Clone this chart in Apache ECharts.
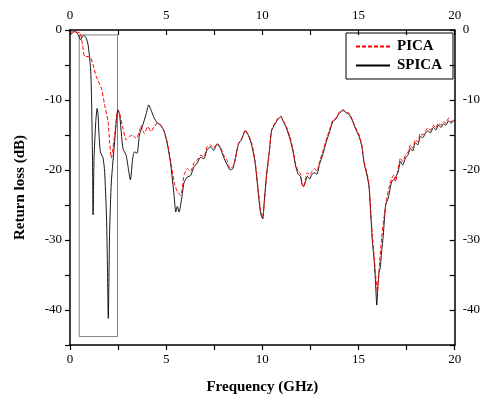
<!DOCTYPE html>
<html><head><meta charset="utf-8">
<script src="https://cdn.jsdelivr.net/npm/echarts@6/dist/echarts.min.js"></script>
<style>html,body{margin:0;padding:0;background:#fff}#c{width:483px;height:401px}</style>
</head><body><div id="c"></div>
<script>
// Frequency (GHz) / Return loss (dB)
const picaFreq = [0,0.17,0.27,0.52,0.65,0.77,1.03,1.20,1.37,1.63,1.80,1.98,2.06,2.15,2.23,2.32,2.41,2.49,2.58,2.75,2.92,3.09,3.26,3.44,3.61,3.69,3.87,4.04,4.21,4.38,4.55,4.72,4.90,5.07,5.24,5.41,5.58,5.76,5.93,6.10,6.27,6.44,6.61,6.79,6.96,7.13,7.30,7.47,7.65,7.82,7.99,8.16,8.33,8.47,8.59,8.76,8.93,9.11,9.28,9.45,9.62,9.79,9.91,10.02,10.10,10.22,10.36,10.48,10.65,10.82,10.96,11.08,11.25,11.43,11.60,11.72,11.86,11.98,12.06,12.15,12.23,12.34,12.46,12.58,12.72,12.84,12.97,13.14,13.32,13.49,13.66,13.83,14.00,14.18,14.35,14.52,14.69,14.86,15.03,15.17,15.29,15.46,15.55,15.64,15.72,15.81,15.89,15.98,16.03,16.10,16.20,16.32,16.44,16.58,16.72,16.84,16.92,17.06,17.18,17.30,17.44,17.58,17.70,17.82,17.95,18.09,18.21,18.34,18.47,18.61,18.73,18.90,19.02,19.16,19.30,19.42,19.54,19.68,19.81,19.94,20];
const picaLoss = [-0.4,-0.2,-0.3,-0.4,-2.1,-3.8,-3.8,-5.0,-6.7,-8.3,-10.7,-13.1,-16.0,-18.3,-16.9,-15.0,-12.6,-11.4,-11.9,-14.0,-15.7,-15.2,-15.0,-15.5,-14.5,-13.6,-14.8,-13.8,-14.5,-13.8,-13.3,-13.6,-14.5,-16.2,-18.8,-21.7,-23.1,-23.6,-20.7,-19.8,-20.2,-19.0,-18.6,-17.9,-18.1,-16.7,-16.4,-16.9,-16.2,-16.7,-17.9,-18.6,-19.8,-19.5,-18.6,-16.2,-15.5,-14.3,-15.0,-16.2,-18.6,-22.9,-25.7,-26.7,-24.8,-21.0,-17.6,-14.3,-13.3,-12.6,-12.3,-12.9,-13.8,-15.2,-17.1,-19.0,-20.2,-20.5,-21.7,-22.5,-21.4,-20.4,-20.7,-20.2,-19.8,-20.2,-18.8,-17.4,-15.7,-14.3,-12.9,-12.6,-11.7,-11.4,-11.7,-11.9,-12.9,-14.0,-15.0,-16.4,-18.8,-20.7,-22.1,-26.0,-29.3,-32.1,-35.0,-37.4,-36.0,-33.1,-29.8,-26.9,-24.5,-22.6,-21.2,-20.7,-21.7,-19.8,-18.3,-18.8,-17.9,-17.4,-16.4,-16.9,-15.7,-16.0,-14.8,-15.0,-14.5,-14.0,-14.3,-13.6,-14.0,-13.3,-13.6,-13.1,-13.3,-12.6,-13.1,-12.9,-12.8];

const spicaFreq = [0,0.09,0.26,0.43,0.55,0.69,0.82,0.94,1.07,1.12,1.17,1.20,1.25,1.34,1.41,1.46,1.51,1.58,1.72,1.80,1.89,1.94,1.99,2.06,2.15,2.32,2.41,2.49,2.58,2.75,2.92,3.14,3.26,3.35,3.49,3.61,3.78,3.95,4.09,4.21,4.38,4.55,4.72,4.90,5.07,5.24,5.41,5.50,5.58,5.67,5.81,5.93,6.10,6.27,6.44,6.61,6.79,6.96,7.13,7.30,7.47,7.65,7.82,7.99,8.16,8.33,8.47,8.59,8.76,8.93,9.11,9.28,9.45,9.62,9.79,9.91,10.02,10.10,10.22,10.36,10.48,10.65,10.82,10.96,11.08,11.25,11.43,11.60,11.72,11.86,11.98,12.06,12.15,12.23,12.34,12.46,12.58,12.72,12.84,12.97,13.14,13.32,13.49,13.66,13.83,14.00,14.18,14.35,14.52,14.69,14.86,15.03,15.17,15.29,15.46,15.55,15.64,15.72,15.82,15.89,15.95,16.00,16.07,16.13,16.20,16.29,16.41,16.55,16.72,16.89,17.06,17.18,17.30,17.44,17.58,17.70,17.82,17.95,18.09,18.21,18.34,18.47,18.61,18.73,18.90,19.02,19.16,19.30,19.42,19.54,19.68,19.81,19.94,20];
const spicaLoss = [-0.6,-0.5,-0.2,-0.7,-1.4,-0.8,-1.0,-2.1,-5.5,-9.8,-18.3,-26.4,-18.3,-13.1,-11.2,-12.1,-15.0,-17.4,-18.3,-20.2,-26.0,-32.6,-41.2,-28.8,-21.7,-16.0,-13.1,-11.4,-12.1,-16.9,-17.9,-21.4,-18.3,-17.4,-17.6,-15.0,-13.6,-12.1,-10.7,-11.4,-12.6,-13.3,-13.6,-14.5,-16.4,-19.3,-23.6,-26.0,-25.2,-26.0,-24.0,-21.8,-21.0,-20.8,-19.6,-19.0,-18.2,-18.4,-17.1,-16.7,-17.2,-16.3,-16.9,-18.2,-19.2,-20.0,-19.8,-18.4,-16.3,-15.6,-14.4,-15.1,-16.5,-18.9,-23.3,-26.2,-27.0,-24.5,-20.6,-17.4,-14.4,-13.5,-12.7,-12.4,-13.0,-14.0,-15.5,-17.4,-19.3,-20.6,-20.9,-22.0,-22.3,-21.8,-20.9,-21.3,-20.6,-20.4,-20.6,-19.2,-17.8,-16.0,-14.6,-13.1,-12.7,-11.9,-11.5,-11.8,-12.1,-13.0,-14.2,-15.2,-16.6,-19.0,-21.0,-22.5,-26.5,-30.2,-33.1,-36.4,-39.3,-36.9,-34.5,-34.0,-31.7,-29.3,-25.0,-24.0,-21.7,-21.2,-20.3,-18.8,-19.3,-18.3,-17.8,-16.9,-17.3,-16.1,-16.4,-15.2,-15.4,-14.8,-14.4,-14.7,-13.9,-14.3,-13.6,-13.9,-13.4,-13.6,-13.0,-13.3,-13.0,-12.9];

// highlighted region box: frequency range and loss range
const boxFreq = [0.48, 2.47];
const boxLoss = [-0.7, -43.8];

const xTicks = [0, 5, 10, 15, 20];
const yTicks = [0, -10, -20, -30, -40];

const serif = '"Liberation Serif","DejaVu Serif",serif';
const zip = (a, b) => a.map((v, i) => [v, b[i]]);

const chart = echarts.init(document.getElementById('c'), null, {renderer: 'canvas'});
const axisLine = {show: true, onZero: false, lineStyle: {color: '#000', width: 1.5}};
const xLab = (show) => ({show: show, color: '#000', fontFamily: serif, fontSize: 13, margin: 8,
  formatter: v => xTicks.includes(v) ? String(v) : ''});
const yLab = {color: '#000', fontFamily: serif, fontSize: 13, margin: 8,
  formatter: v => yTicks.includes(v) ? String(v) : ''};

chart.setOption({
  animation: false,
  backgroundColor: '#fff',
  grid: {left: 70, right: 25, top: 30, bottom: 56},
  legend: {
    orient: 'vertical', left: 346, top: 33,
    padding: [6, 11, 6, 9], itemGap: 4, itemWidth: 34, itemHeight: 10,
    borderColor: '#000', borderWidth: 1,
    itemStyle: {color: 'rgba(0,0,0,0)', borderColor: 'rgba(0,0,0,0)', borderWidth: 0},
    textStyle: {fontFamily: serif, fontSize: 15, fontWeight: 'bold', color: '#000', padding: [0, 0, 0, 2]},
    data: ['PICA', 'SPICA']
  },
  xAxis: [
    {type: 'value', position: 'bottom', min: 0, max: 20, interval: 2.5,
     name: 'Frequency (GHz)', nameLocation: 'middle', nameGap: 35,
     nameTextStyle: {fontFamily: serif, fontSize: 15, fontWeight: 'bold', color: '#000'},
     axisLine: axisLine, axisTick: {show: true, inside: false, length: 5, lineStyle: {color: '#000', width: 1.2}},
     axisLabel: xLab(true), splitLine: {show: false}},
    {type: 'value', position: 'top', min: 0, max: 20, interval: 2.5,
     axisLine: axisLine, axisTick: {show: true, inside: true, length: 5, lineStyle: {color: '#000', width: 1.2}},
     axisLabel: xLab(true), splitLine: {show: false}}
  ],
  yAxis: [
    {type: 'value', position: 'left', min: -45, max: 0, interval: 5,
     name: 'Return loss (dB)', nameLocation: 'middle', nameGap: 42, nameRotate: 90,
     nameTextStyle: {fontFamily: serif, fontSize: 15, fontWeight: 'bold', color: '#000'},
     axisLine: axisLine, axisTick: {show: true, inside: false, length: 5, lineStyle: {color: '#000', width: 1.2}},
     axisLabel: yLab, splitLine: {show: false}},
    {type: 'value', position: 'right', min: -45, max: 0, interval: 5,
     axisLine: axisLine, axisTick: {show: true, inside: true, length: 5, lineStyle: {color: '#000', width: 1.2}},
     axisLabel: yLab, splitLine: {show: false}}
  ],
  series: [
    {name: 'PICA', type: 'line', xAxisIndex: 0, yAxisIndex: 0, data: zip(picaFreq, picaLoss),
     showSymbol: false, symbol: 'none', smooth: 0.2, z: 3,
     lineStyle: {color: '#ff0000', width: 1, type: [4, 2]}, itemStyle: {color: '#ff0000'}},
    {name: 'SPICA', type: 'line', xAxisIndex: 0, yAxisIndex: 0, data: zip(spicaFreq, spicaLoss),
     showSymbol: false, symbol: 'none', smooth: 0.2, z: 2,
     lineStyle: {color: '#000', width: 0.9}, itemStyle: {color: '#000'},
     markArea: {silent: true,
       itemStyle: {color: 'rgba(0,0,0,0)', borderColor: '#808080', borderWidth: 1},
       data: [[{xAxis: boxFreq[0], yAxis: boxLoss[0]}, {xAxis: boxFreq[1], yAxis: boxLoss[1]}]]}}
  ]
});
</script></body></html>
